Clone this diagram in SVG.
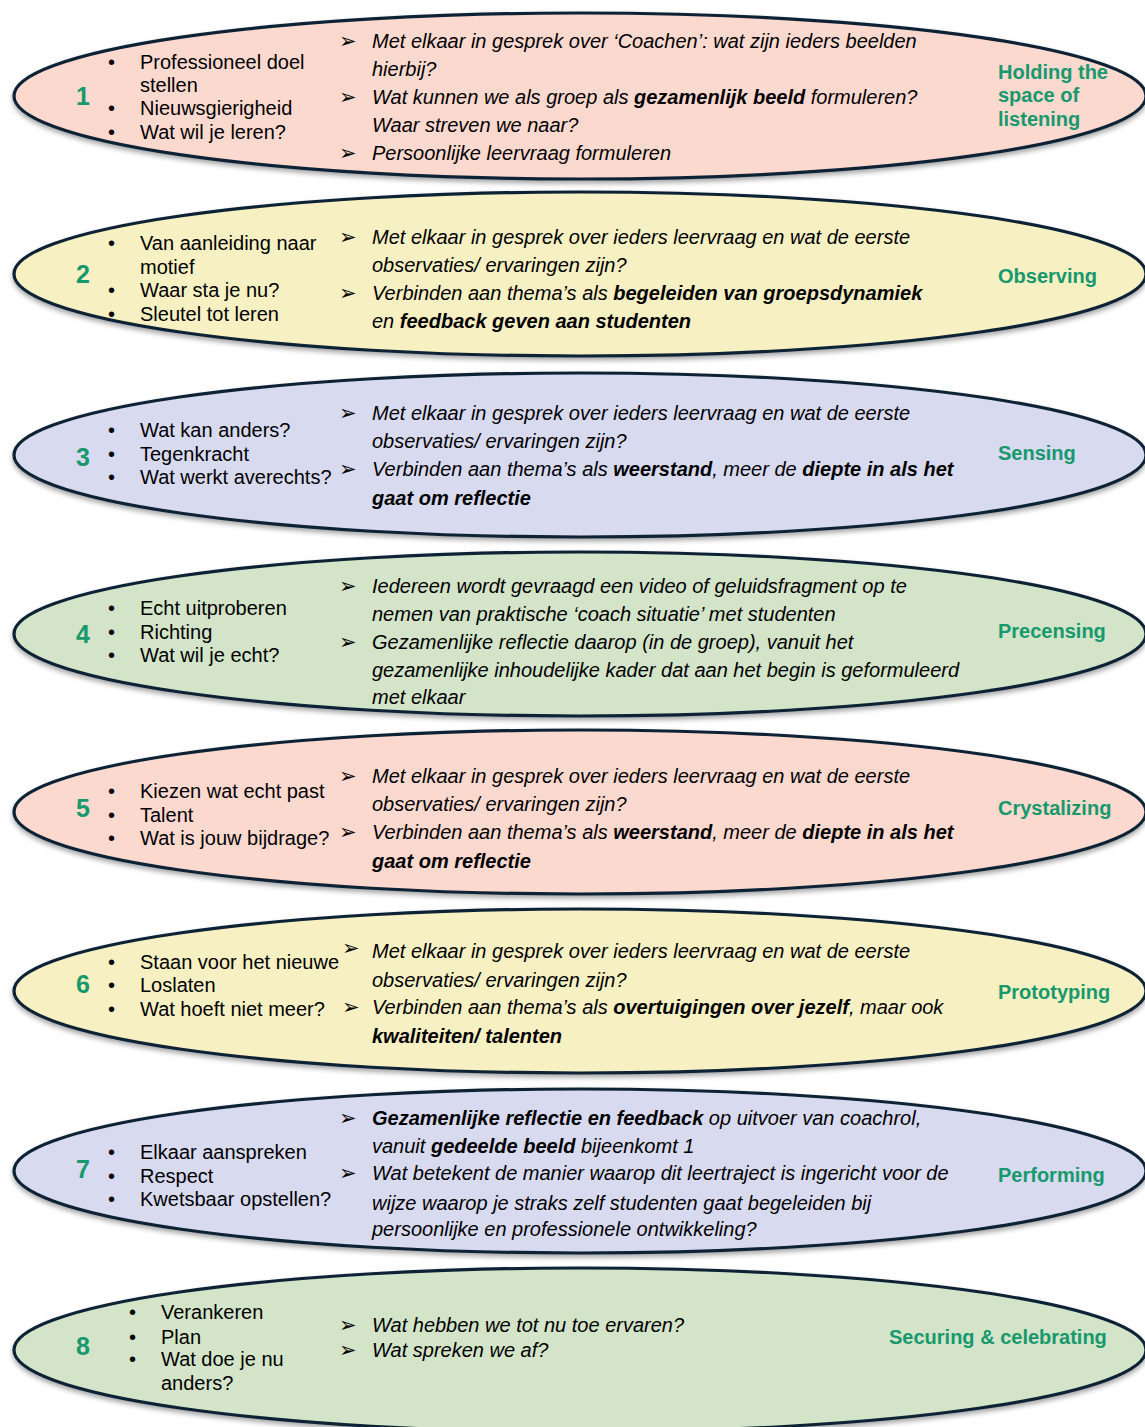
<svg xmlns="http://www.w3.org/2000/svg" width="1145" height="1427" viewBox="0 0 1145 1427">
<defs>
<filter id="sh" x="-5%" y="-20%" width="110%" height="150%">
<feDropShadow dx="0" dy="3" stdDeviation="2.5" flood-color="#000" flood-opacity="0.35"/>
</filter>
</defs>
<style>
.e{stroke:#0f2436;stroke-width:3.2;filter:url(#sh)}
.pink{fill:#fcd9cf}.yel{fill:#f6f0c3}.lav{fill:#d8daf0}.grn{fill:#d3e4c9}
.num{font-family:"Liberation Sans",Arial,sans-serif;font-weight:bold;font-size:25px;fill:#17986d}
.b{font-family:"Liberation Sans",Arial,sans-serif;font-size:20px;fill:#000}
.m{font-family:"Liberation Sans",Arial,sans-serif;font-style:italic;font-size:20px;fill:#000}
.m .k{font-weight:bold}
.lab{font-family:"Liberation Sans",Arial,sans-serif;font-weight:bold;font-size:20px;fill:#17986d}
.ar{font-family:"DejaVu Sans",sans-serif;font-size:21px;fill:#000}
</style>
<rect width="1145" height="1427" fill="#fff"/>

<g id="node1">
<ellipse class="e pink" cx="580" cy="96" rx="566" ry="83"/>
<text class="num" x="76" y="105">1</text>
<text class="b" x="108" y="69">•</text><text class="b" x="140" y="69">Professioneel doel</text>
<text class="b" x="140" y="92">stellen</text>
<text class="b" x="108" y="115">•</text><text class="b" x="140" y="115">Nieuwsgierigheid</text>
<text class="b" x="108" y="139">•</text><text class="b" x="140" y="139">Wat wil je leren?</text>
<text class="ar" x="339" y="48">➢</text><text class="m" x="372" y="48">Met elkaar in gesprek over ‘Coachen’: wat zijn ieders beelden</text>
<text class="m" x="372" y="76">hierbij?</text>
<text class="ar" x="339" y="104">➢</text><text class="m" x="372" y="104">Wat kunnen we als groep als <tspan class="k">gezamenlijk beeld</tspan> formuleren?</text>
<text class="m" x="372" y="132">Waar streven we naar?</text>
<text class="ar" x="339" y="160">➢</text><text class="m" x="372" y="160">Persoonlijke leervraag formuleren</text>
<text class="lab" x="998" y="79">Holding the</text>
<text class="lab" x="998" y="102">space of</text>
<text class="lab" x="998" y="126">listening</text>
</g>

<g id="node2">
<ellipse class="e yel" cx="580" cy="274" rx="566" ry="82"/>
<text class="num" x="76" y="283">2</text>
<text class="b" x="108" y="250">•</text><text class="b" x="140" y="250">Van aanleiding naar</text>
<text class="b" x="140" y="274">motief</text>
<text class="b" x="108" y="297">•</text><text class="b" x="140" y="297">Waar sta je nu?</text>
<text class="b" x="108" y="321">•</text><text class="b" x="140" y="321">Sleutel tot leren</text>
<text class="ar" x="339" y="244">➢</text><text class="m" x="372" y="244">Met elkaar in gesprek over ieders leervraag en wat de eerste</text>
<text class="m" x="372" y="272">observaties/ ervaringen zijn?</text>
<text class="ar" x="339" y="300">➢</text><text class="m" x="372" y="300">Verbinden aan thema’s als <tspan class="k">begeleiden van groepsdynamiek</tspan></text>
<text class="m" x="372" y="328">en <tspan class="k">feedback geven aan studenten</tspan></text>
<text class="lab" x="998" y="283">Observing</text>
</g>

<g id="node3">
<ellipse class="e lav" cx="580" cy="455" rx="566" ry="82"/>
<text class="num" x="76" y="466">3</text>
<text class="b" x="108" y="437">•</text><text class="b" x="140" y="437">Wat kan anders?</text>
<text class="b" x="108" y="461">•</text><text class="b" x="140" y="461">Tegenkracht</text>
<text class="b" x="108" y="484">•</text><text class="b" x="140" y="484">Wat werkt averechts?</text>
<text class="ar" x="339" y="420">➢</text><text class="m" x="372" y="420">Met elkaar in gesprek over ieders leervraag en wat de eerste</text>
<text class="m" x="372" y="448">observaties/ ervaringen zijn?</text>
<text class="ar" x="339" y="476">➢</text><text class="m" x="372" y="476">Verbinden aan thema’s als <tspan class="k">weerstand</tspan>, meer de <tspan class="k">diepte in als het</tspan></text>
<text class="m" x="372" y="505"><tspan class="k">gaat om reflectie</tspan></text>
<text class="lab" x="998" y="460">Sensing</text>
</g>

<g id="node4">
<ellipse class="e grn" cx="580" cy="634" rx="566" ry="82"/>
<text class="num" x="76" y="643">4</text>
<text class="b" x="108" y="615">•</text><text class="b" x="140" y="615">Echt uitproberen</text>
<text class="b" x="108" y="639">•</text><text class="b" x="140" y="639">Richting</text>
<text class="b" x="108" y="662">•</text><text class="b" x="140" y="662">Wat wil je echt?</text>
<text class="ar" x="339" y="593">➢</text><text class="m" x="372" y="593">Iedereen wordt gevraagd een video of geluidsfragment op te</text>
<text class="m" x="372" y="621">nemen van praktische ‘coach situatie’ met studenten</text>
<text class="ar" x="339" y="649">➢</text><text class="m" x="372" y="649">Gezamenlijke reflectie daarop (in de groep), vanuit het</text>
<text class="m" x="372" y="677">gezamenlijke inhoudelijke kader dat aan het begin is geformuleerd</text>
<text class="m" x="372" y="704">met elkaar</text>
<text class="lab" x="998" y="638">Precensing</text>
</g>

<g id="node5">
<ellipse class="e pink" cx="580" cy="812" rx="566" ry="82"/>
<text class="num" x="76" y="817">5</text>
<text class="b" x="108" y="798">•</text><text class="b" x="140" y="798">Kiezen wat echt past</text>
<text class="b" x="108" y="822">•</text><text class="b" x="140" y="822">Talent</text>
<text class="b" x="108" y="845">•</text><text class="b" x="140" y="845">Wat is jouw bijdrage?</text>
<text class="ar" x="339" y="783">➢</text><text class="m" x="372" y="783">Met elkaar in gesprek over ieders leervraag en wat de eerste</text>
<text class="m" x="372" y="811">observaties/ ervaringen zijn?</text>
<text class="ar" x="339" y="839">➢</text><text class="m" x="372" y="839">Verbinden aan thema’s als <tspan class="k">weerstand</tspan>, meer de <tspan class="k">diepte in als het</tspan></text>
<text class="m" x="372" y="868"><tspan class="k">gaat om reflectie</tspan></text>
<text class="lab" x="998" y="815">Crystalizing</text>
</g>

<g id="node6">
<ellipse class="e yel" cx="580" cy="991" rx="566" ry="82"/>
<text class="num" x="76" y="993">6</text>
<text class="b" x="108" y="969">•</text><text class="b" x="140" y="969">Staan voor het nieuwe</text>
<text class="b" x="108" y="992">•</text><text class="b" x="140" y="992">Loslaten</text>
<text class="b" x="108" y="1016">•</text><text class="b" x="140" y="1016">Wat hoeft niet meer?</text>
<text class="ar" x="342" y="955">➢</text><text class="m" x="372" y="958">Met elkaar in gesprek over ieders leervraag en wat de eerste</text>
<text class="m" x="372" y="987">observaties/ ervaringen zijn?</text>
<text class="ar" x="342" y="1014">➢</text><text class="m" x="372" y="1014">Verbinden aan thema’s als <tspan class="k">overtuigingen over jezelf</tspan>, maar ook</text>
<text class="m" x="372" y="1043"><tspan class="k">kwaliteiten/ talenten</tspan></text>
<text class="lab" x="998" y="999">Prototyping</text>
</g>

<g id="node7">
<ellipse class="e lav" cx="580" cy="1171" rx="566" ry="82"/>
<text class="num" x="76" y="1178">7</text>
<text class="b" x="108" y="1159">•</text><text class="b" x="140" y="1159">Elkaar aanspreken</text>
<text class="b" x="108" y="1183">•</text><text class="b" x="140" y="1183">Respect</text>
<text class="b" x="108" y="1206">•</text><text class="b" x="140" y="1206">Kwetsbaar opstellen?</text>
<text class="ar" x="339" y="1125">➢</text><text class="m" x="372" y="1125"><tspan class="k">Gezamenlijke reflectie en feedback</tspan> op uitvoer van coachrol,</text>
<text class="m" x="372" y="1153">vanuit <tspan class="k">gedeelde beeld</tspan> bijeenkomt 1</text>
<text class="ar" x="339" y="1180">➢</text><text class="m" x="372" y="1180">Wat betekent de manier waarop dit leertraject is ingericht voor de</text>
<text class="m" x="372" y="1210">wijze waarop je straks zelf studenten gaat begeleiden bij</text>
<text class="m" x="372" y="1236">persoonlijke en professionele ontwikkeling?</text>
<text class="lab" x="998" y="1182">Performing</text>
</g>

<g id="node8">
<ellipse class="e grn" cx="580" cy="1350" rx="566" ry="82"/>
<text class="num" x="76" y="1355">8</text>
<text class="b" x="129" y="1319">•</text><text class="b" x="161" y="1319">Verankeren</text>
<text class="b" x="129" y="1344">•</text><text class="b" x="161" y="1344">Plan</text>
<text class="b" x="129" y="1366">•</text><text class="b" x="161" y="1366">Wat doe je nu</text>
<text class="b" x="161" y="1390">anders?</text>
<text class="ar" x="339" y="1332">➢</text><text class="m" x="372" y="1332">Wat hebben we tot nu toe ervaren?</text>
<text class="ar" x="339" y="1357">➢</text><text class="m" x="372" y="1357">Wat spreken we af?</text>
<text class="lab" x="889" y="1344">Securing &amp; celebrating</text>
</g>
</svg>
